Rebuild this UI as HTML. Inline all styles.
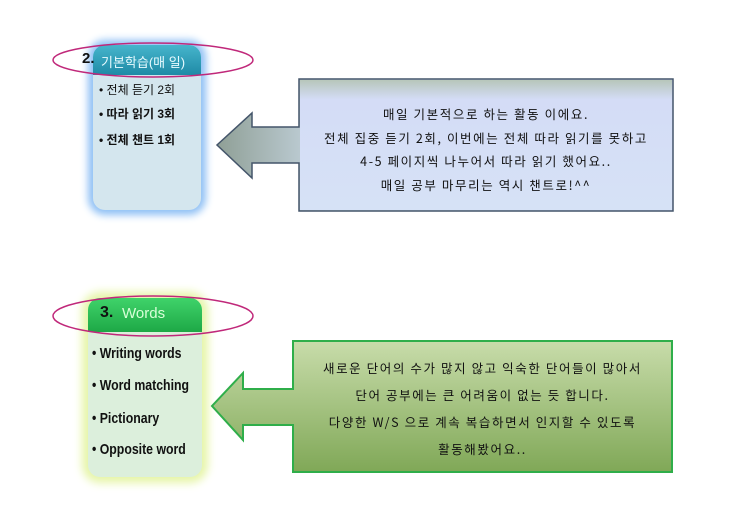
<!DOCTYPE html>
<html><head><meta charset="utf-8"><style>
body{margin:0;width:753px;height:518px;background:#fff;overflow:hidden;position:relative;font-family:"Liberation Sans","Noto Sans CJK KR",sans-serif}
.abs{position:absolute}
.card1{left:93px;top:45px;width:108px;height:165px;border-radius:12px;background:#d4e6ee;box-shadow:0 0 8px 5px #8fc0f5}
.h1{left:93px;top:45px;width:108px;height:30px;border-radius:12px 12px 0 0;background:linear-gradient(#46b5cc,#1f8aa6);}
.card2{left:88px;top:298px;width:114px;height:179px;border-radius:12px;background:#dcefdc;box-shadow:0 0 9px 6px #e6f5a8}
.h2{left:88px;top:298px;width:114px;height:34px;border-radius:12px 12px 0 0;background:linear-gradient(#3fd36a,#1ea846);}
.it1{font-size:12px;font-weight:bold;color:#111;left:99px}
.it2{font-family:"Liberation Sans Narrow","Liberation Sans",sans-serif;font-size:15px;font-weight:bold;color:#111;left:92px;transform:scaleX(.82);transform-origin:left}
.t{font-family:"Noto Sans CJK KR",sans-serif;font-size:12.5px;letter-spacing:1.6px;color:#111;text-align:center;white-space:nowrap}
</style></head><body>
<div class="abs card1"></div><div class="abs h1"></div>
<div class="abs" style="left:82px;top:50px;font-size:15px;font-weight:bold;color:#111">2.</div>
<div class="abs" style="left:101px;top:52px;font-size:13px;color:#e8fbff">기본학습(매 일)</div>
<div class="abs it1" style="top:81px;font-weight:normal">• 전체 듣기 2회</div>
<div class="abs it1" style="top:105px">• 따라 읽기 3회</div>
<div class="abs it1" style="top:131px">• 전체 챈트 1회</div>

<div class="abs card2"></div><div class="abs h2"></div>
<div class="abs" style="left:100px;top:304px;font-size:16px;font-weight:bold;color:#111">3.</div>
<div class="abs" style="left:122px;top:305px;font-size:15px;color:#d8ffd8">Words</div>
<div class="abs it2" style="top:345px">• Writing words</div>
<div class="abs it2" style="top:377px">• Word matching</div>
<div class="abs it2" style="top:410px">• Pictionary</div>
<div class="abs it2" style="top:441px">• Opposite word</div>

<svg class="abs" style="left:0;top:0" width="753" height="518">
<defs>
<linearGradient id="g1" x1="0" x2="1" y1="0" y2="0"><stop offset="0" stop-color="#8f9f96"/><stop offset=".25" stop-color="#c9d8e4"/><stop offset="1" stop-color="#d2dcf7"/></linearGradient>
<linearGradient id="g1b" x1="0" x2="0" y1="0" y2="1"><stop offset="0" stop-color="#b7c6bb"/><stop offset=".15" stop-color="#d4dcf6"/><stop offset="1" stop-color="#d6e2f6"/></linearGradient>
<linearGradient id="g2" x1="0" x2="0" y1="0" y2="1"><stop offset="0" stop-color="#c8dcaa"/><stop offset="1" stop-color="#80a857"/></linearGradient>
</defs>
<path d="M299,79 H673 V211 H299 V163 H252 V178 L217,145 L252,113 V127 H299 Z" fill="url(#g1)" stroke="#44556a" stroke-width="1.5"/>
<rect x="300" y="80" width="372" height="130" fill="url(#g1b)"/>
<path d="M293,341 H672 V472 H293 V425 H243 V440 L212,406 L243,373 V389 H293 Z" fill="url(#g2)" stroke="#2fae4a" stroke-width="2"/>
<ellipse cx="153" cy="60" rx="100" ry="17" fill="none" stroke="#c0287a" stroke-width="1.5"/>
<ellipse cx="153" cy="316" rx="100" ry="20" fill="none" stroke="#c0287a" stroke-width="1.5"/>
</svg>
<div class="abs t" style="left:300px;top:102px;width:372px;line-height:23.5px">매일 기본적으로 하는 활동 이에요.<br>전체 집중 듣기 2회, 이번에는 전체 따라 읽기를 못하고<br>4-5 페이지씩 나누어서 따라 읽기 했어요..<br>매일 공부 마무리는 역시 챈트로!^^</div>
<div class="abs t" style="left:293px;top:354px;width:379px;line-height:27px">새로운 단어의 수가 많지 않고 익숙한 단어들이 많아서<br>단어 공부에는 큰 어려움이 없는 듯 합니다.<br>다양한 W/S 으로 계속 복습하면서 인지할 수 있도록<br>활동해봤어요..</div>
</body></html>
